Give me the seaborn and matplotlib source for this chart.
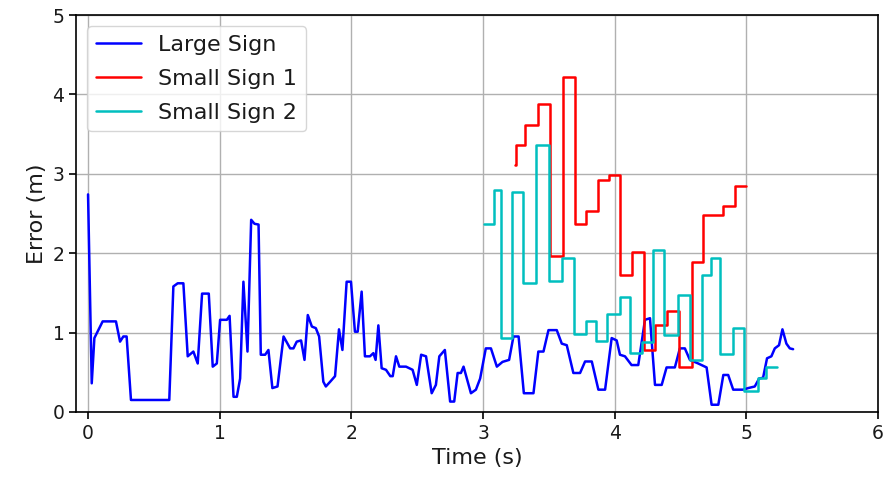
import numpy as np
import pandas as pd
import matplotlib
matplotlib.use("Agg")
import matplotlib.pyplot as plt
import seaborn as sns

# Large sign error trace (time in s, error in m)
large_t = [0.0, 0.028, 0.048, 0.111, 0.212, 0.243, 0.268, 0.293, 0.326, 0.617,
           0.648, 0.681, 0.724, 0.757, 0.80, 0.833, 0.866, 0.917, 0.947, 0.978,
           1.003, 1.054, 1.075, 1.105, 1.13, 1.155, 1.18, 1.211, 1.239, 1.264,
           1.295, 1.312, 1.345, 1.37, 1.40, 1.439, 1.485, 1.535, 1.56, 1.585,
           1.618, 1.644, 1.669, 1.70, 1.73, 1.755, 1.787, 1.806, 1.839, 1.876,
           1.906, 1.932, 1.964, 1.997, 2.027, 2.048, 2.078, 2.103, 2.141, 2.167,
           2.184, 2.205, 2.23, 2.263, 2.296, 2.314, 2.339, 2.364, 2.415, 2.465,
           2.497, 2.53, 2.567, 2.61, 2.642, 2.668, 2.71, 2.75, 2.781, 2.807,
           2.832, 2.852, 2.908, 2.946, 2.978, 3.021, 3.06, 3.105, 3.148, 3.198,
           3.231, 3.27, 3.31, 3.383, 3.42, 3.459, 3.497, 3.56, 3.598, 3.636,
           3.686, 3.737, 3.775, 3.826, 3.876, 3.927, 3.977, 4.015, 4.04, 4.078,
           4.128, 4.179, 4.23, 4.268, 4.306, 4.357, 4.394, 4.457, 4.495, 4.533,
           4.571, 4.634, 4.698, 4.736, 4.787, 4.825, 4.862, 4.90, 4.976, 5.014,
           5.064, 5.097, 5.127, 5.157, 5.19, 5.216, 5.248, 5.274, 5.304, 5.33,
           5.355]
large_err = [2.74, 0.36, 0.93, 1.14, 1.14, 0.885, 0.95, 0.95, 0.15, 0.15,
             1.58, 1.62, 1.62, 0.70, 0.76, 0.61, 1.49, 1.49, 0.57, 0.61,
             1.16, 1.16, 1.21, 0.19, 0.19, 0.42, 1.64, 0.76, 2.42, 2.37,
             2.36, 0.72, 0.72, 0.78, 0.30, 0.32, 0.95, 0.80, 0.80, 0.885,
             0.90, 0.655, 1.22, 1.075, 1.055, 0.95, 0.38, 0.32, 0.38, 0.45,
             1.04, 0.78, 1.64, 1.64, 1.01, 1.01, 1.515, 0.70, 0.70, 0.74,
             0.655, 1.09, 0.55, 0.53, 0.45, 0.45, 0.70, 0.57, 0.57, 0.53,
             0.34, 0.72, 0.70, 0.235, 0.34, 0.70, 0.78, 0.13, 0.13, 0.49,
             0.49, 0.57, 0.235, 0.28, 0.42, 0.80, 0.80, 0.57, 0.63, 0.655,
             0.95, 0.95, 0.235, 0.235, 0.76, 0.76, 1.03, 1.03, 0.86, 0.84,
             0.49, 0.49, 0.635, 0.635, 0.28, 0.28, 0.93, 0.90, 0.72, 0.70,
             0.59, 0.59, 1.16, 1.18, 0.34, 0.34, 0.56, 0.56, 0.80, 0.80,
             0.655, 0.61, 0.56, 0.09, 0.09, 0.465, 0.465, 0.28, 0.28, 0.30,
             0.32, 0.42, 0.43, 0.675, 0.70, 0.80, 0.84, 1.04, 0.86, 0.80,
             0.79]

# Small sign 1 (piecewise constant, value holds until next time)
small1_t = [3.24, 3.25, 3.32, 3.42, 3.51, 3.61, 3.70, 3.785, 3.87, 3.96, 4.04,
            4.135, 4.22, 4.305, 4.40, 4.49, 4.59, 4.67, 4.82, 4.91, 5.00]
small1_err = [3.11, 3.36, 3.62, 3.875, 1.97, 4.22, 2.37, 2.535, 2.92, 2.99, 1.73,
              2.02, 0.78, 1.095, 1.27, 0.56, 1.89, 2.48, 2.60, 2.84, 2.84]

# Small sign 2 (piecewise constant)
small2_t = [3.01, 3.085, 3.14, 3.22, 3.30, 3.405, 3.50, 3.60, 3.69, 3.78, 3.855,
            3.945, 4.04, 4.12, 4.21, 4.29, 4.375, 4.48, 4.57, 4.66, 4.735, 4.80,
            4.90, 4.98, 5.09, 5.15, 5.23]
small2_err = [2.37, 2.80, 0.93, 2.775, 1.62, 3.36, 1.65, 1.935, 0.98, 1.145, 0.895,
              1.23, 1.45, 0.74, 0.885, 2.04, 0.97, 1.47, 0.655, 1.72, 1.94, 0.725,
              1.06, 0.265, 0.43, 0.56, 0.56]

x_ticks = [0, 1, 2, 3, 4, 5, 6]
y_ticks = [0, 1, 2, 3, 4, 5]

sns.set_theme(style="ticks", color_codes=False, rc={
    "axes.grid": True,
    "grid.color": "#b0b0b0",
    "grid.linewidth": 1.0,
    "axes.edgecolor": "black",
    "axes.linewidth": 1.2,
    "xtick.direction": "out",
    "ytick.direction": "out",
    "xtick.major.size": 5,
    "ytick.major.size": 5,
    "xtick.color": "black",
    "ytick.color": "black",
    "text.color": "#1a1a1a",
    "axes.labelcolor": "#1a1a1a",
})
plt.rcParams["font.family"] = ["DejaVu Sans"]

large = pd.DataFrame({"t": large_t, "err": large_err})
s1 = pd.DataFrame({"t": small1_t, "err": small1_err})
s2 = pd.DataFrame({"t": small2_t, "err": small2_err})

fig = plt.figure(figsize=(8.86, 4.84), dpi=100)
ax = fig.add_axes([0.086, 0.149, 0.905, 0.82])

sns.lineplot(data=large, x="t", y="err", ax=ax, color="#0000ff", lw=1.8,
             sort=False, estimator=None, label="Large Sign")
sns.lineplot(data=s1, x="t", y="err", ax=ax, color="#ff0000", lw=1.8,
             sort=False, estimator=None, drawstyle="steps-post", label="Small Sign 1")
sns.lineplot(data=s2, x="t", y="err", ax=ax, color="#00bfbf", lw=1.8,
             sort=False, estimator=None, drawstyle="steps-post", label="Small Sign 2")

ax.set_xlim(-0.09, 6)
ax.set_ylim(0, 5)
ax.set_xticks(x_ticks)
ax.set_yticks(y_ticks)
ax.tick_params(labelsize=13.5, width=1.2, labelcolor="#1a1a1a")
ax.set_xlabel("Time (s)", fontsize=16)
ax.set_ylabel("Error (m)", fontsize=16)
ax.legend(loc="upper left", fontsize=16, frameon=True, framealpha=0.8,
          edgecolor="#cccccc", fancybox=True, handlelength=2.0,
          labelspacing=0.62)

fig.savefig("out.png", dpi=100)
